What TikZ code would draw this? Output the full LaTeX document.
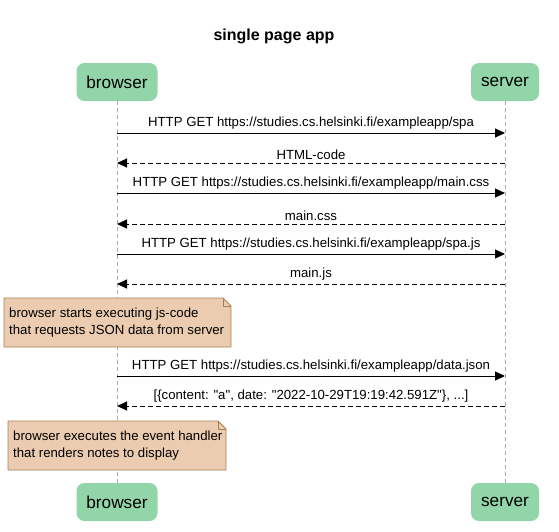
\documentclass[tikz,border=0pt]{standalone}
\usepackage{fontspec}
\setmainfont{Liberation Sans}
\usetikzlibrary{arrows.meta,shapes.misc}
\definecolor{partfill}{RGB}{146,213,168}
\definecolor{notefill}{RGB}{236,204,176}
\definecolor{notedraw}{RGB}{168,128,80}
\definecolor{lifegray}{RGB}{170,170,170}
\tikzset{
  part/.style={fill=partfill, rounded corners=8pt, minimum width=80pt, minimum height=38pt, inner sep=0pt, font=\fontsize{17.2}{19}\selectfont},
  lifeline/.style={draw=lifegray, dash pattern=on 4pt off 3pt, line width=0.8pt},
  msg/.style={-{Triangle[length=10pt,width=9pt]}, line width=1pt},
  ret/.style={msg, dash pattern=on 5pt off 3pt},
  lbl/.style={font=\fontsize{13.2}{15}\selectfont, inner sep=0pt},
  notetxt/.style={font=\fontsize{13.2}{16.5}\selectfont, align=left, inner sep=0pt, anchor=north west},
}
\begin{document}
\begin{tikzpicture}[x=1pt,y=-1pt]
\useasboundingbox (0,0) rectangle (559,531);
\node[font=\bfseries\fontsize{16}{18}\selectfont] (title) at (274,36) {single page app};
% participants
\node[part, minimum width=81pt] (bt) at (117,82) {browser};
\node[part, minimum width=68pt] (st) at (505,82) {server};
\node[part, minimum width=81pt] (bb) at (117,502) {browser};
\node[part, minimum width=68pt] (sb) at (505,502) {server};
\draw[lifeline] (bt.south) -- (bb.north);
\draw[lifeline] (st.south) -- (sb.north);
% message endpoints
\foreach \n/\y in {1/133,2/163,3/193,4/224,5/254,6/284,7/376,8/406}{
  \coordinate (b\n) at (117,\y);
  \coordinate (s\n) at (505,\y);
}
\draw[msg] (b1) -- (s1) node[lbl, midway, above=3pt] (l1) {HTTP GET https://studies.cs.helsinki.fi/exampleapp/spa};
\draw[ret] (s2) -- (b2) node[lbl, midway, above=3pt] (l2) {HTML-code};
\draw[msg] (b3) -- (s3) node[lbl, midway, above=3pt] (l3) {HTTP GET https://studies.cs.helsinki.fi/exampleapp/main.css};
\draw[ret] (s4) -- (b4) node[lbl, midway, above=3pt] (l4) {main.css};
\draw[msg] (b5) -- (s5) node[lbl, midway, above=3pt] (l5) {HTTP GET https://studies.cs.helsinki.fi/exampleapp/spa.js};
\draw[ret] (s6) -- (b6) node[lbl, midway, above=3pt] (l6) {main.js};
\draw[msg] (b7) -- (s7) node[lbl, midway, above=3pt] (l7) {HTTP GET https://studies.cs.helsinki.fi/exampleapp/data.json};
\draw[ret] (s8) -- (b8) node[lbl, midway, above=3pt] (l8) {[\{content: \textquotedbl a\textquotedbl, date: \textquotedbl 2022-10-29T19:19:42.591Z\textquotedbl\}, ...]};
% notes
\draw[draw=notedraw, fill=notefill, line width=0.8pt] (4,298) -- (223,298) -- (231,306) -- (231,347) -- (4,347) -- cycle;
\draw[draw=notedraw, line width=0.8pt] (223,298) -- (223,306) -- (231,306);
\node[notetxt] (n1) at (9,308) {browser starts executing js-code\\that requests JSON data from server};
\draw[draw=notedraw, fill=notefill, line width=0.8pt] (8,421) -- (218,421) -- (226,429) -- (226,470) -- (8,470) -- cycle;
\draw[draw=notedraw, line width=0.8pt] (218,421) -- (218,429) -- (226,429);
\node[notetxt] (n2) at (13,431) {browser executes the event handler\\that renders notes to display};
\end{tikzpicture}
\end{document}
